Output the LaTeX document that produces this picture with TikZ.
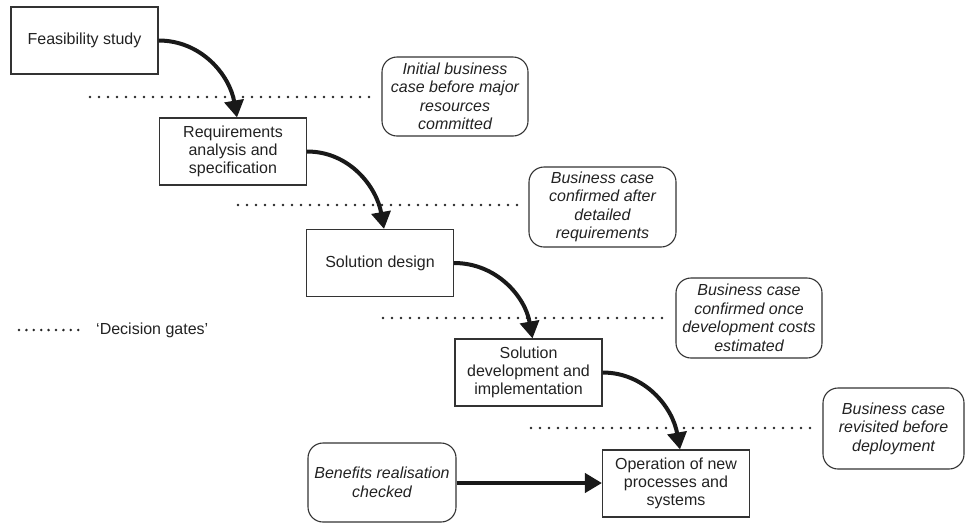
\documentclass[tikz,border=0pt]{standalone}
\usepackage{fontspec}
\setmainfont{Liberation Sans}
\usetikzlibrary{arrows.meta}
\definecolor{txt}{HTML}{222222}
\definecolor{edge}{HTML}{333333}
\tikzset{
  stagebox/.style={draw=edge, line width=1.1pt, minimum width=147pt, minimum height=67pt,
    inner sep=0pt, align=center, text=txt, font=\fontsize{16}{18}\selectfont},
  notebox/.style={draw=edge, line width=1.1pt, rounded corners=15pt, inner sep=0pt,
    align=center, text=txt, font=\fontsize{16}{18.5}\selectfont\itshape},
  flow/.style={line width=4pt, draw=black!90, -{Triangle[length=17pt,width=19pt]}},
  gate/.style={line width=2.8pt, line cap=round, dash pattern=on 0pt off 9pt, draw=black!85},
  legdots/.style={line width=2.8pt, line cap=round, dash pattern=on 0pt off 7.4pt, draw=black!85}
}
\begin{document}
\begin{tikzpicture}[x=1pt,y=-1pt]
\useasboundingbox (0,0) rectangle (965,523);
% stages
\node[stagebox] (b1) at (84.5,40.5) {Feasibility study};
\node[stagebox] (b2) at (233,151.5) {Requirements\\analysis and\\specification};
\node[stagebox] (b3) at (380,263) {Solution design};
\node[stagebox] (b4) at (528.5,372.5) {Solution\\development and\\implementation};
\node[stagebox] (b5) at (676,483.5) {Operation of new\\processes and\\systems};
% notes
\node[notebox, minimum width=146pt, minimum height=79pt] (n1) at (455,96.5) {Initial business\\case before major\\resources\\committed};
\node[notebox, minimum width=147pt, minimum height=80pt] (n2) at (602.5,207) {Business case\\confirmed after\\detailed\\requirements};
\node[notebox, minimum width=146pt, minimum height=80pt] (n3) at (749,318) {Business case\\confirmed once\\development costs\\estimated};
\node[notebox, minimum width=141pt, minimum height=81pt] (n4) at (893.5,428.5) {Business case\\revisited before\\deployment};
\node[notebox, minimum width=148pt, minimum height=79pt] (n5) at (382,482.5) {Benefits realisation\\checked};
% decision gates
\coordinate (g1a) at (90,97);   \coordinate (g1b) at (373,97);
\coordinate (g2a) at (238,205); \coordinate (g2b) at (520,205);
\coordinate (g3a) at (383,318); \coordinate (g3b) at (667,318);
\coordinate (g4a) at (531,428); \coordinate (g4b) at (815,428);
\draw[gate] (g1a) -- (g1b);
\draw[gate] (g2a) -- (g2b);
\draw[gate] (g3a) -- (g3b);
\draw[gate] (g4a) -- (g4b);
% legend
\coordinate (la) at (19,330); \coordinate (lb) at (79,330);
\draw[legdots] (la) -- (lb);
\node[anchor=west, inner sep=0pt, text=txt, font=\fontsize{16}{18}\selectfont] (leg) at (96,330) {`Decision gates'};
% flow arrows
\draw[flow] (b1.east) to[out=0, in=100] ([xshift=4pt]b2.north);
\draw[flow] (b2.east) to[out=0, in=100] ([xshift=4pt]b3.north);
\draw[flow] (b3.east) to[out=0, in=100] ([xshift=4pt]b4.north);
\draw[flow] (b4.east) to[out=0, in=100] ([xshift=4pt]b5.north);
\draw[flow] (n5.east |- 0,483) -- (b5.west |- 0,483);
\end{tikzpicture}
\end{document}
